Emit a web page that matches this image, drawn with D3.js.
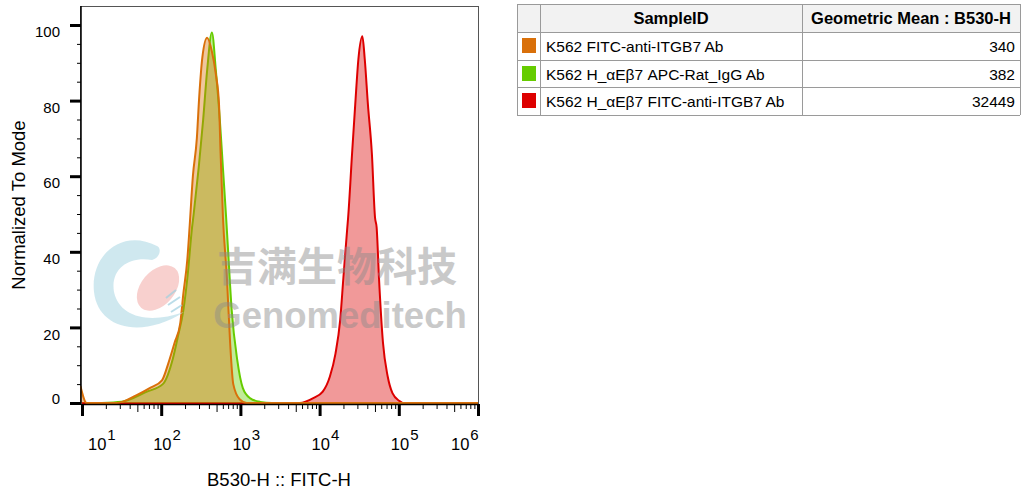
<!DOCTYPE html>
<html>
<head>
<meta charset="utf-8">
<script src="https://cdn.jsdelivr.net/npm/d3@7"></script>
<style>
  body { margin: 0; background: #fff; }
  svg { font-family: "Liberation Sans", Arial, sans-serif; }
</style>
</head>
<body>
<svg width="1022" height="493"></svg>
<script>
// histogram traces: x in log10(B530-H), y in % of mode
var orangeLog = [0.98, 1.06, 1.44, 1.69, 1.86, 2.01, 2.09, 2.17, 2.24, 2.28, 2.33, 2.36, 2.40, 2.45, 2.48, 2.52, 2.58, 2.64, 2.69, 2.73, 2.75, 2.78, 2.83, 2.87, 2.91, 2.99, 3.08, 6.0];
var orangeVal = [4.5, 0, 0, 2.1, 4, 6, 10.5, 16, 21, 29, 38, 47, 60, 70, 81, 91.5, 96.6, 93, 87, 79, 66, 49, 33, 16, 5, 1, 0, 0];

var greenLog = [1.25, 1.50, 1.82, 2.02, 2.15, 2.21, 2.28, 2.33, 2.39, 2.41, 2.53, 2.58, 2.64, 2.69, 2.74, 2.78, 2.82, 2.84, 2.89, 2.96, 3.03, 3.12, 3.25, 3.40, 6.0];
var greenVal = [0, 0.3, 3, 5, 12, 17.5, 24.6, 33, 46.5, 50, 75, 88, 98, 88, 75, 62, 49, 42, 24.6, 11.4, 4, 1.3, 0.3, 0, 0];

var redLog = [1.0, 3.75, 3.92, 4.04, 4.13, 4.20, 4.26, 4.30, 4.35, 4.36, 4.41, 4.45, 4.49, 4.54, 4.57, 4.61, 4.66, 4.70, 4.72, 4.75, 4.80, 4.86, 4.92, 5.01, 5.05, 6.0];
var redVal = [0, 0, 1.3, 3, 7, 13, 22, 33, 46.5, 49, 66, 79, 91, 97, 91, 79, 66, 49, 46.5, 33, 16, 7, 2.6, 0.5, 0, 0];

var sampleIds = ["K562 FITC-anti-ITGB7 Ab", "K562 H_\u03b1E\u03b27 APC-Rat_IgG Ab", "K562 H_\u03b1E\u03b27 FITC-anti-ITGB7 Ab"];
var geoMeans = ["340", "382", "32449"];
var sampleColors = ["#d9700a", "#66cc00", "#dd0000"];

var yTicks = [0, 20, 40, 60, 80, 100];
var xDecades = [1, 2, 3, 4, 5, 6];

var svg = d3.select("svg");

var x = d3.scaleLog().domain([10, 1e6]).range([82, 478]);
var y = d3.scaleLinear().domain([0, 100]).range([403, 25]);

// clip to plot frame
svg.append("defs").append("clipPath").attr("id", "plotclip")
  .append("rect").attr("x", 80).attr("y", 6).attr("width", 399).attr("height", 398);

// frame
svg.append("rect").attr("x", 80.5).attr("y", 6.5).attr("width", 398).attr("height", 398)
  .attr("fill", "none").attr("stroke", "#555").attr("stroke-width", 1);

var area = d3.area()
  .x(function(d) { return x(Math.pow(10, d[0])); })
  .y0(y(0))
  .y1(function(d) { return y(d[1]); })
  .curve(d3.curveMonotoneX);
var line = d3.line()
  .x(function(d) { return x(Math.pow(10, d[0])); })
  .y(function(d) { return y(d[1]); })
  .curve(d3.curveMonotoneX);

var series = [
  { xs: redLog, ys: redVal, color: sampleColors[2] },
  { xs: greenLog, ys: greenVal, color: sampleColors[1] },
  { xs: orangeLog, ys: orangeVal, color: sampleColors[0] }
];

var plot = svg.append("g").attr("clip-path", "url(#plotclip)");

series.forEach(function(s) {
  var pts = s.xs.map(function(v, i) { return [v, s.ys[i]]; });
  plot.append("path").datum(pts).attr("d", area)
    .attr("fill", s.color).attr("fill-opacity", 0.4);
  plot.append("path").datum(pts).attr("d", line)
    .attr("fill", "none").attr("stroke", s.color).attr("stroke-width", 2)
    .attr("stroke-linejoin", "round");
});

// axes
var minors = [];
for (var dcd = 1; dcd < 6; dcd++) {
  for (var m = 2; m <= 9; m++) minors.push(m * Math.pow(10, dcd));
}
var xAxisG = svg.append("g").attr("transform", "translate(0,404)");
xAxisG.append("g").call(d3.axisBottom(x).tickValues(minors.filter(function(v, i) { return i % 8 !== 3; })).tickSize(5).tickFormat(""))
  .call(function(g) { g.select(".domain").remove(); });
xAxisG.append("g").call(d3.axisBottom(x).tickValues(minors.filter(function(v, i) { return i % 8 === 3; })).tickSize(8).tickFormat(""))
  .call(function(g) { g.select(".domain").remove(); });
xAxisG.append("g").call(d3.axisBottom(x).tickValues(xDecades.map(function(e) { return Math.pow(10, e); })).tickSize(12).tickSizeOuter(0).tickFormat(""))
  .call(function(g) {
    g.selectAll(".tick line").attr("stroke-width", 3);
    g.select(".domain").attr("stroke-width", 1.5);
  });

// decade labels
xDecades.forEach(function(e) {
  var px = Math.max(88, Math.min(451, x(Math.pow(10, e)) - 8));
  var t = svg.append("text").attr("x", px).attr("y", 450).attr("font-size", 16.5).attr("fill", "#000");
  t.append("tspan").text("10");
  t.append("tspan").attr("dy", -10).attr("dx", 1).attr("font-size", 15).text(e);
});

var yAxisG = svg.append("g").attr("transform", "translate(81,0)");
var yMinors = d3.range(5, 100, 5).filter(function(v) { return v % 20 !== 0; });
yAxisG.append("g").call(d3.axisLeft(y).tickValues(yMinors).tickSize(4).tickFormat(""))
  .call(function(g) { g.select(".domain").remove(); });
yAxisG.append("g").call(d3.axisLeft(y).tickValues(yTicks).tickSize(11).tickPadding(10))
  .call(function(g) {
    g.select(".domain").attr("d", "M0,6V404").attr("stroke-width", 1.5);
    g.selectAll(".tick line").attr("stroke-width", 3);
    g.selectAll(".tick text").attr("font-size", 15)
      .attr("dy", function(d) { return d === 0 ? "0.02em" : "0.78em"; })
      .attr("font-family", "Liberation Sans, Arial, sans-serif");
  });

// axis titles
svg.append("text").attr("transform", "translate(25,205) rotate(-90)")
  .attr("text-anchor", "middle").attr("font-size", 18.5).text("Normalized To Mode");
svg.append("text").attr("x", 279).attr("y", 486)
  .attr("text-anchor", "middle").attr("font-size", 18.5).text("B530-H :: FITC-H");

// watermark
var wm = svg.append("g").attr("pointer-events", "none");
wm.append("path")
  .attr("d", "M157,246 C122,228 90,255 94,292 C98,328 140,340 184,312 C150,324 120,318 114,292 C110,268 130,256 152,260 C160,258 162,248 157,246 Z")
  .attr("fill", "#bfe0ea").attr("opacity", 0.75);
wm.append("ellipse").attr("cx", 158).attr("cy", 288).attr("rx", 17).attr("ry", 26)
  .attr("transform", "rotate(40,158,288)")
  .attr("fill", "#f6c0bd").attr("opacity", 0.75);
[[166, 298, 176, 290], [168, 305, 180, 297], [171, 312, 182, 305]].forEach(function(p) {
  wm.append("line").attr("x1", p[0]).attr("y1", p[1]).attr("x2", p[2]).attr("y2", p[3])
    .attr("stroke", "#9fd0e0").attr("stroke-width", 2).attr("opacity", 0.7);
});
wm.append("text").attr("x", 337).attr("y", 281).attr("text-anchor", "middle")
  .attr("font-family", "Noto Sans CJK SC").attr("font-weight", "bold").attr("font-size", 40)
  .attr("fill", "#8a8a8a").attr("opacity", 0.45).text("吉满生物科技");
wm.append("text").attr("x", 340).attr("y", 328).attr("text-anchor", "middle")
  .attr("font-weight", "bold").attr("font-size", 36.5)
  .attr("fill", "#8a8a8a").attr("opacity", 0.45).text("Genomeditech");

// legend table
var tbl = svg.append("g");
var colX = [517, 540, 802, 1020];
var rowY = [4, 32, 60, 87, 115];
tbl.append("rect").attr("x", colX[0]).attr("y", rowY[0]).attr("width", colX[3] - colX[0]).attr("height", rowY[1] - rowY[0])
  .attr("fill", "#f2f2f2");
rowY.forEach(function(ry) {
  tbl.append("line").attr("x1", colX[0]).attr("x2", colX[3]).attr("y1", ry + 0.5).attr("y2", ry + 0.5)
    .attr("stroke", "#9a9a9a");
});
colX.forEach(function(cx) {
  tbl.append("line").attr("x1", cx + 0.5).attr("x2", cx + 0.5).attr("y1", rowY[0]).attr("y2", rowY[4])
    .attr("stroke", "#9a9a9a");
});
tbl.append("text").attr("x", (colX[1] + colX[2]) / 2).attr("y", 24).attr("text-anchor", "middle")
  .attr("font-size", 16.5).attr("font-weight", "bold").text("SampleID");
tbl.append("text").attr("x", (colX[2] + colX[3]) / 2).attr("y", 24).attr("text-anchor", "middle")
  .attr("font-size", 16.5).attr("font-weight", "bold").text("Geometric Mean : B530-H");

var rows = tbl.selectAll(".row").data(sampleIds).enter().append("g");
rows.append("rect").attr("x", 522).attr("y", function(d, i) { return rowY[i + 1] + 6; })
  .attr("width", 14).attr("height", 15).attr("fill", function(d, i) { return sampleColors[i]; });
rows.append("text").attr("x", 546).attr("y", function(d, i) { return rowY[i + 1] + 19.5; })
  .attr("font-size", 15.5).text(function(d) { return d; });
rows.append("text").attr("x", 1015).attr("y", function(d, i) { return rowY[i + 1] + 19.5; })
  .attr("text-anchor", "end").attr("font-size", 15.5).text(function(d, i) { return geoMeans[i]; });
</script>
</body>
</html>
